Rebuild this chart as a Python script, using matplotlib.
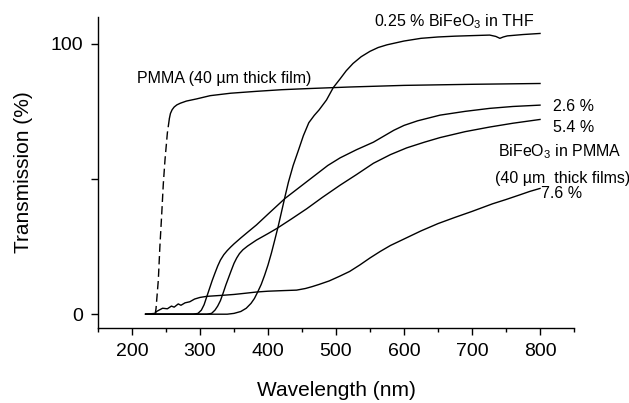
import numpy as np
import matplotlib
matplotlib.use('Agg')
import matplotlib.pyplot as plt

plt.rcParams['font.family'] = ['Liberation Sans', 'DejaVu Sans']
plt.rcParams['mathtext.fontset'] = 'custom'
plt.rcParams['mathtext.rm'] = 'Liberation Sans'
plt.rcParams['mathtext.it'] = 'Liberation Sans:italic'
plt.rcParams['mathtext.default'] = 'regular'

# PMMA film: dashed steep edge, then solid plateau
pmma_edge_x = [234, 235.3, 238.7, 241, 243.7, 246, 248.5, 252, 255]
pmma_edge_y = [0, 2, 12.6, 25, 37, 48, 57, 67, 72.4]
pmma_x = [255, 256.5, 259, 262, 266, 271, 280, 295, 315, 345, 383, 420, 457, 520, 600, 700, 800]
pmma_y = [72.4, 74.2, 75.6, 76.6, 77.4, 78, 78.8, 79.6, 80.8, 81.7, 82.4, 83, 83.4, 84, 84.6, 85, 85.3]

# 0.25 % BiFeO3 in THF
thf_x = [220, 340, 350, 360, 368, 375, 380, 385, 390, 395, 400, 405, 410, 415, 420, 425,
         430, 437, 445, 452, 460, 468, 475, 486, 496, 506, 515, 525, 537, 550, 562, 575,
         600, 625, 650, 675, 700, 726, 735, 741, 746, 752, 775, 800]
thf_y = [0, 0, 0.3, 1, 2.2, 4, 5.8, 8.3, 11, 14.4, 18.2, 22.6, 27.5, 32.5, 38, 43.5,
         48.8, 55, 60.8, 66, 70.8, 73.5, 75.5, 79.2, 83.8, 87, 90, 92.7, 95.2, 97.2, 98.6, 99.6,
         101, 102, 102.5, 102.8, 103, 103.2, 102.7, 102, 102.5, 102.9, 103.4, 103.8]

# BiFeO3 in PMMA films
c26_x = [220, 290, 297, 302, 306, 310, 314, 318, 322, 326, 330, 335, 340, 345, 350, 360,
         370, 383, 400, 425, 457, 488, 506, 530, 555, 570, 585, 600, 620, 653, 690, 726, 760, 800]
c26_y = [0, 0, 0.3, 1.5, 3.5, 6.5, 9.5, 12.5, 15.2, 17.8, 20, 22, 23.5, 24.8, 26, 28.2,
         30.3, 33, 37, 42.8, 49, 55, 57.8, 60.8, 63.6, 65.8, 68, 69.8, 71.5, 73.6, 75, 76.1, 76.8, 77.3]

c54_x = [220, 310, 317, 322, 326, 330, 334, 338, 342, 346, 350, 354, 358, 363, 370, 383,
         400, 413, 435, 457, 480, 506, 530, 555, 580, 604, 630, 653, 690, 726, 760, 800]
c54_y = [0, 0, 0.3, 1.5, 3, 5, 7.8, 10.8, 13.5, 16.2, 18.8, 20.8, 22.4, 23.8, 25.2, 27.4,
         29.8, 31.7, 35.3, 39, 43.2, 47.7, 51.6, 55.8, 59, 61.5, 63.6, 65.3, 67.5, 69.2, 70.6, 72]

c76_x = [220, 234, 236, 245, 252, 258, 262, 268, 272, 278, 285, 292, 300, 310, 334, 350,
         365, 383, 400, 420, 442, 455, 465, 475, 490, 505, 520, 535, 550, 565, 580, 600,
         625, 650, 675, 700, 730, 750, 770, 785, 800]
c76_y = [0, 0.3, 1, 2.2, 2.0, 3.0, 2.6, 3.8, 3.3, 4.2, 4.6, 5.6, 6.2, 6.6, 7, 7.3,
         7.7, 8.2, 8.5, 8.7, 8.9, 9.5, 10.2, 11, 12.3, 14, 15.8, 18.2, 20.8, 23.2, 25.4, 27.8,
         30.8, 33.5, 35.8, 38, 40.8, 42.4, 44.1, 45.4, 46.5]

fig = plt.figure(figsize=(6.29, 4.03), dpi=100)
ax = fig.add_axes([0.1558, 0.1868, 0.7568, 0.7718])

lw = 1.0
ax.plot(pmma_edge_x, pmma_edge_y, color='black', lw=lw, ls=(0, (6, 3)))
ax.plot(pmma_x, pmma_y, color='black', lw=lw)
ax.plot(thf_x, thf_y, color='black', lw=lw)
ax.plot(c26_x, c26_y, color='black', lw=lw)
ax.plot(c54_x, c54_y, color='black', lw=lw)
ax.plot(c76_x, c76_y, color='black', lw=lw)

fs = 11.5
ax.text(556, 106.5, '0.25 % BiFeO$_3$ in THF', fontsize=fs, va='baseline')
ax.text(207, 85.3, 'PMMA (40 µm thick film)', fontsize=fs, va='baseline')
ax.text(819.6, 75.2, '2.6 %', fontsize=fs, va='baseline', clip_on=False)
ax.text(819.6, 67.4, '5.4 %', fontsize=fs, va='baseline', clip_on=False)
ax.text(738.7, 58.2, 'BiFeO$_3$ in PMMA', fontsize=fs, va='baseline', clip_on=False)
ax.text(733.8, 48.5, '(40 µm  thick films)', fontsize=fs, va='baseline', clip_on=False)
ax.text(802, 42.8, '7.6 %', fontsize=fs, va='baseline', clip_on=False)

ax.set_xlim(150, 850)
ax.set_ylim(-5, 110)
ax.set_xticks(np.arange(200, 801, 100))
ax.set_xticks(np.arange(150, 851, 100), minor=True)
ax.set_yticks([0, 50, 100])
ax.set_yticklabels(['0', '', '100'])
ax.tick_params(axis='both', which='major', direction='out', length=5, width=1,
               labelsize=14, pad=6)
ax.tick_params(axis='x', which='minor', direction='out', length=3, width=1)

for s in ['top', 'right']:
    ax.spines[s].set_visible(False)
for s in ['left', 'bottom']:
    ax.spines[s].set_linewidth(1)

ax.set_xlabel('Wavelength (nm)', fontsize=15)
ax.set_ylabel('Transmission (%)', fontsize=15)
ax.xaxis.set_label_coords(0.5, -0.17)
ax.yaxis.set_label_coords(-0.136, 0.5)

fig.savefig('out.png', dpi=100)
